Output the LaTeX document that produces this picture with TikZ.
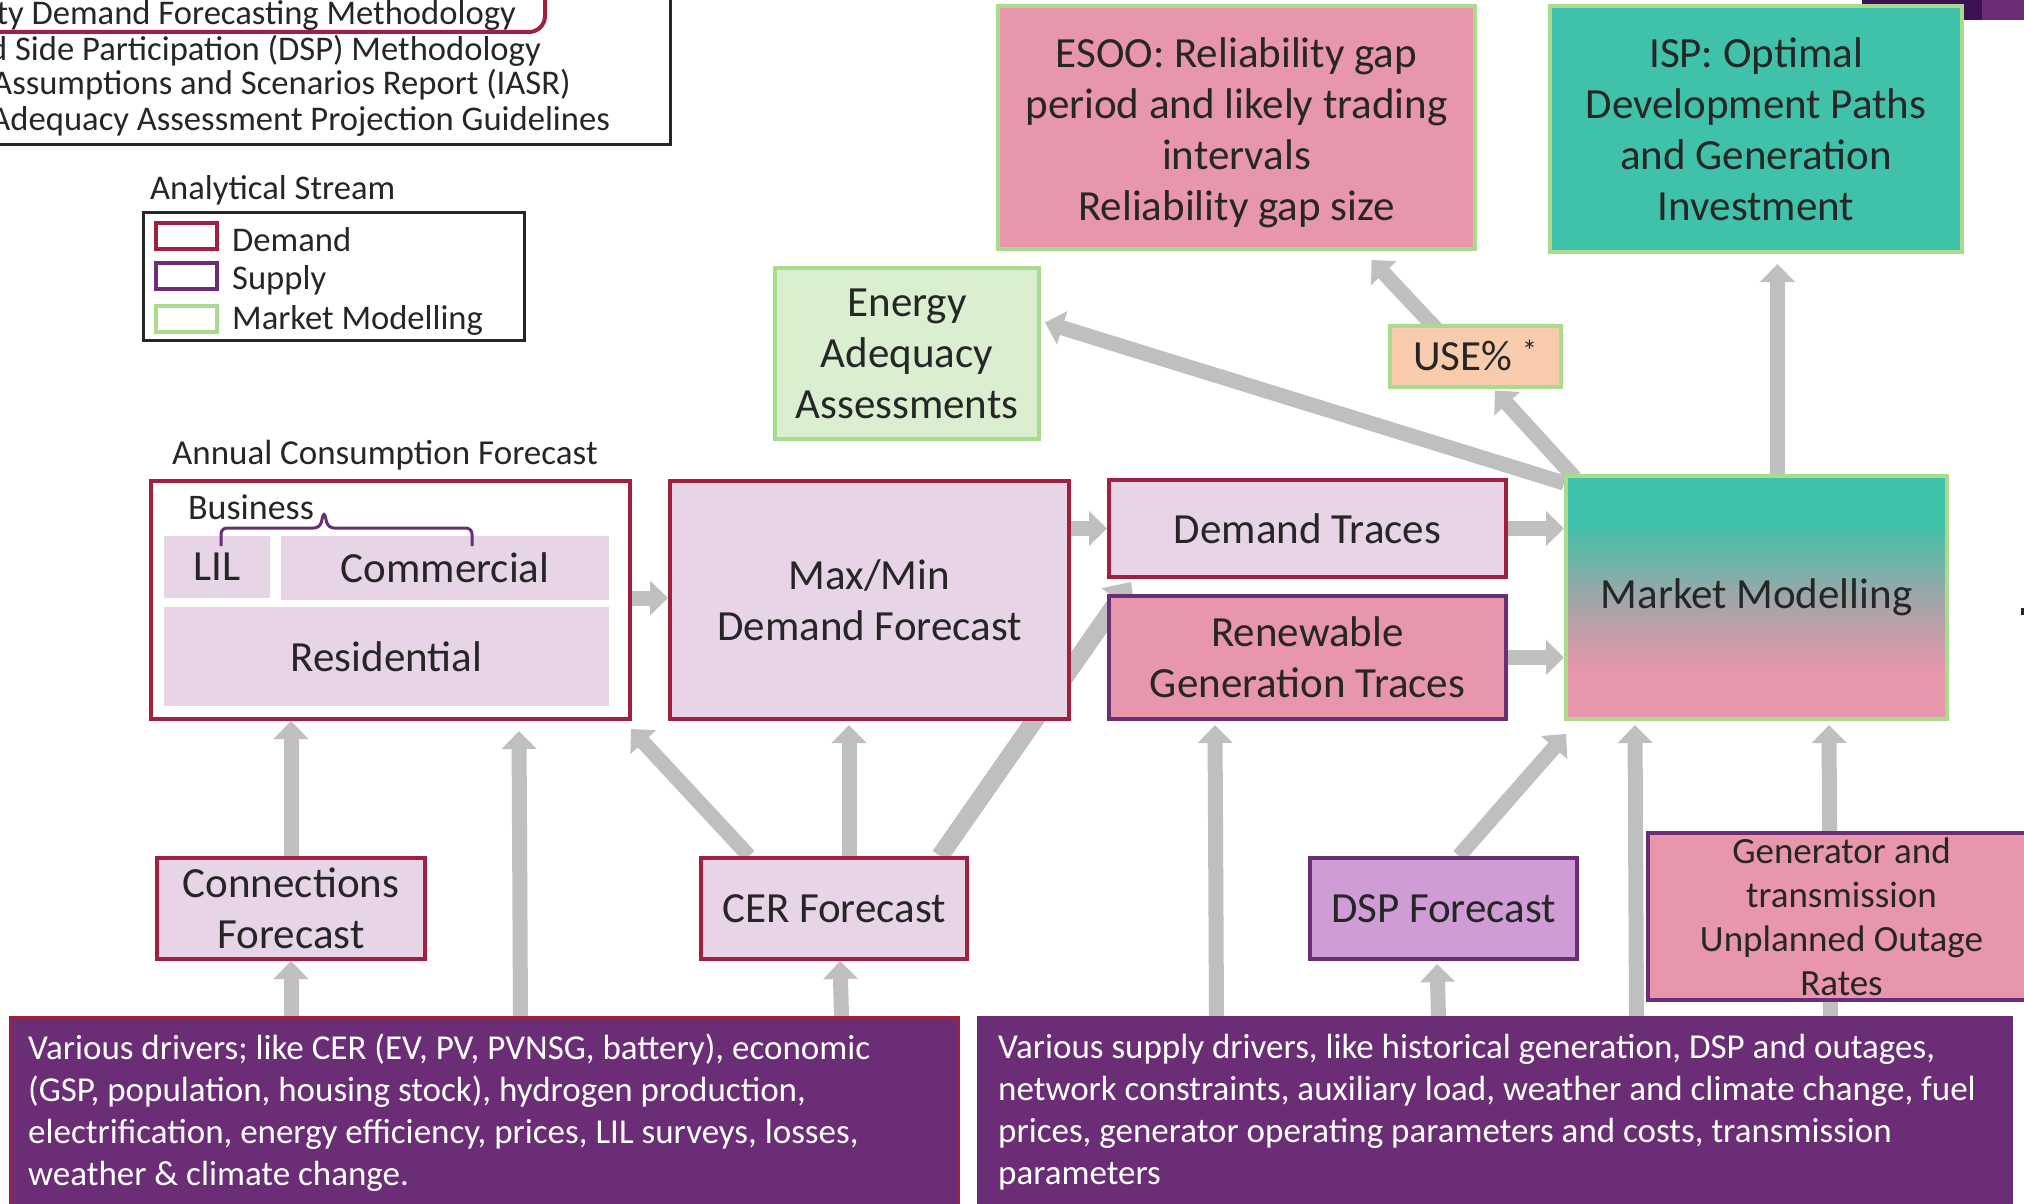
\documentclass[tikz,border=0pt]{standalone}
\usepackage{fontspec}
\setmainfont{Carlito}
\usepackage{xcolor}
\usepackage{tikz}
\usetikzlibrary{arrows.meta, positioning}

\definecolor{crimson}{RGB}{160,32,64}
\definecolor{plum}{RGB}{107,45,117}
\definecolor{darkplum}{RGB}{62,18,82}
\definecolor{lavender}{RGB}{232,212,231}
\definecolor{rosepink}{RGB}{232,150,171}
\definecolor{mteal}{RGB}{64,193,170}
\definecolor{midgray}{RGB}{158,166,168}
\definecolor{leafgreen}{RGB}{168,220,140}
\definecolor{mint}{RGB}{217,239,208}
\definecolor{peach}{RGB}{248,203,173}
\definecolor{lilac}{RGB}{207,156,213}
\definecolor{arrowgray}{RGB}{191,191,191}
\definecolor{ink}{RGB}{38,38,38}

\pgfdeclareverticalshading{mmshade}{100bp}{color(0bp)=(rosepink); color(35bp)=(rosepink); color(50bp)=(midgray); color(65bp)=(mteal); color(100bp)=(mteal)}

\pgfdeclarelayer{bg}
\pgfsetlayers{bg,main}

\begin{document}
\begin{tikzpicture}[x=1pt, y=-1pt,
    basebox/.style={draw, line width=4pt, inner sep=0pt, align=center, text=ink, font=\fontsize{43}{51}\selectfont},
    demandbox/.style={basebox, draw=crimson, fill=lavender},
    supplybox/.style={basebox, draw=plum, fill=rosepink},
    marketbox/.style={basebox, draw=leafgreen},
    subbox/.style={fill=lavender, inner sep=0pt, text=ink, font=\fontsize{43}{51}\selectfont},
    legendtext/.style={inner sep=0pt, text=ink, font=\fontsize{34.6}{36}\selectfont},
    drivertext/.style={inner sep=0pt, text=white, align=left, font=\fontsize{35}{42}\selectfont},
    flow/.style={draw=arrowgray, line width=15pt, -{Triangle[width=34pt,length=18pt]}}]
  \useasboundingbox (0,0) rectangle (2024,1204);
  \clip (0,0) rectangle (2024,1204);

  \fill[darkplum] (1862,-5) rectangle (1982,20);
  \fill[plum] (1982,-5) rectangle (2030,20);
  \fill[ink] (2021,608) rectangle (2026,615);

  \draw[ink, line width=3pt] (-300,-40) rectangle (670,145);
  \draw[crimson, line width=4pt, rounded corners=16pt] (-300,-40) rectangle (545,32);
  \node[legendtext, anchor=base east] (src1) at (516,25) {Electricity Demand Forecasting Methodology};
  \node[legendtext, anchor=base east] (src2) at (541,61) {Demand Side Participation (DSP) Methodology};
  \node[legendtext, anchor=base east] (src3) at (571,95) {Inputs, Assumptions and Scenarios Report (IASR)};
  \node[legendtext, anchor=base east] (src4) at (610,131) {Energy Adequacy Assessment Projection Guidelines};

  \node[legendtext, anchor=base west] (streamtitle) at (150,199) {Analytical Stream};
  \draw[ink, line width=3pt] (143,212) rectangle (524,340);
  \node[draw=crimson, line width=4pt, minimum width=61pt, minimum height=26pt] (keydemand) at (186.5,236) {};
  \node[draw=plum, line width=4pt, minimum width=61pt, minimum height=26pt] (keysupply) at (186.5,275.5) {};
  \node[draw=leafgreen, line width=4pt, minimum width=61pt, minimum height=26pt] (keymarket) at (186.5,318.5) {};
  \node[legendtext, anchor=base west] (keydemandlabel) at (232,251) {Demand};
  \node[legendtext, anchor=base west] (keysupplylabel) at (232,289) {Supply};
  \node[legendtext, anchor=base west] (keymarketlabel) at (232,329) {Market Modelling};

  \node[marketbox, fill=rosepink, minimum width=477pt, minimum height=243pt] (esoo) at (1236.5,127.5) {\rule{0pt}{0.95em}ESOO: Reliability gap\\period and likely trading\\intervals\\Reliability gap size};
  \node[marketbox, fill=mteal, minimum width=412pt, minimum height=246pt] (isp) at (1756,129) {ISP: Optimal\\Development Paths\\and Generation\\Investment};
  \node[marketbox, fill=mint, minimum width=264pt, minimum height=171pt] (energy) at (907,353.5) {Energy\\Adequacy\\Assessments};
  \node[marketbox, fill=peach, minimum width=171pt, minimum height=61pt] (use) at (1475.5,356) {USE\% \smash{\textsuperscript{*}}};

  \node[legendtext, font=\fontsize{35}{40}\selectfont] (annuallabel) at (385,455) {Annual Consumption Forecast};
  \node[demandbox, fill=white, minimum width=479pt, minimum height=238pt] (annual) at (390.5,600) {};
  \node[legendtext, font=\fontsize{36}{40}\selectfont] (business) at (251,507) {Business};
  \node[subbox, minimum width=106pt, minimum height=62pt] (lil) at (217,567) {LIL};
  \node[subbox, minimum width=328pt, minimum height=64pt] (commercial) at (445,568) {Commercial};
  \node[subbox, minimum width=445pt, minimum height=99pt] (residential) at (386.5,656.5) {Residential};
  \draw[plum, line width=3pt, rounded corners=6pt] (221,546) -- (221,528) -- (320,528) -- (324,511) -- (328,528) -- (472,528) -- (472,546);

  \node[demandbox, minimum width=399pt, minimum height=238pt] (maxmin) at (869.5,600) {Max/Min\\Demand Forecast};
  \node[demandbox, minimum width=397pt, minimum height=97pt] (demtraces) at (1307.5,528.5) {Demand Traces};
  \node[supplybox, minimum width=397pt, minimum height=123pt] (rentraces) at (1307.5,657.5) {Renewable\\Generation Traces};
  \node[marketbox, shading=mmshade, minimum width=381pt, minimum height=243pt] (market) at (1756.5,597.5) {Market Modelling};

  \node[demandbox, minimum width=268pt, minimum height=101pt] (conn) at (291,908.5) {Connections\\Forecast};
  \node[demandbox, minimum width=266pt, minimum height=101pt] (cer) at (834,908.5) {CER Forecast};
  \node[supplybox, fill=lilac, minimum width=267pt, minimum height=101pt] (dsp) at (1443.5,908.5) {DSP Forecast};
  \node[supplybox, minimum width=387pt, minimum height=167pt, font=\fontsize{37}{44}\selectfont] (gen) at (1841.5,916.5) {Generator and\\transmission\\Unplanned Outage\\Rates};

  \node[draw=crimson, fill=plum, line width=3pt, anchor=north west, minimum width=948pt, minimum height=230pt] (drivers) at (9,1016) {};
  \node[drivertext, anchor=north west] (driverstext) at (28,1034) {Various drivers; like CER (EV, PV, PVNSG, battery), economic\\(GSP, population, housing stock), hydrogen production,\\electrification, energy efficiency, prices, LIL surveys, losses,\\weather \& climate change.};
  \node[draw=plum, fill=plum, line width=3pt, anchor=north west, minimum width=1033pt, minimum height=230pt] (supply) at (977,1016) {};
  \node[drivertext, anchor=north west] (supplytext) at (998,1034) {Various supply drivers, like historical generation, DSP and outages,\\network constraints, auxiliary load, weather and climate change, fuel\\prices, generator operating parameters and costs, transmission\\parameters};

  \begin{pgfonlayer}{bg}
    \draw[flow] (conn.north) -- (conn.north |- annual.south);
    \draw[flow] (conn.south |- drivers.north) -- (conn.south);
    \draw[flow] ([xshift=36pt]drivers.north) -- ([xshift=128.5pt,yshift=-10pt]annual.south);
    \draw[flow] ([xshift=-85pt]cer.north) -- ([xshift=-1pt,yshift=-8pt]annual.south east);
    \draw[flow] ([xshift=15pt]cer.north) -- ([xshift=-20.5pt,yshift=-4pt]maxmin.south);
    \draw[flow, line width=18pt, -{Triangle[width=40pt,length=22pt]}] ([xshift=106pt]cer.north) -- ([xshift=24pt,yshift=-3pt]demtraces.south west);
    \draw[flow] ([xshift=357pt]drivers.north) -- ([xshift=6pt]cer.south);
    \draw[flow] ([yshift=2pt]annual.east) -- ([yshift=2pt]maxmin.west);
    \draw[flow] (maxmin.east |- demtraces.west) -- (demtraces.west);
    \draw[flow] (demtraces.east) -- (demtraces.east -| market.west);
    \draw[flow] (rentraces.east) -- (rentraces.east -| market.west);
    \draw[flow] ([xshift=-278.5pt]supply.north) -- ([xshift=-92.5pt,yshift=-4pt]rentraces.south);
    \draw[flow] ([xshift=15.5pt]dsp.north) -- ([xshift=2pt,yshift=-13pt]market.south west);
    \draw[flow] ([xshift=-56.5pt]supply.north) -- ([xshift=-6.5pt,yshift=-3pt]dsp.south);
    \draw[flow] ([xshift=141.5pt]supply.north) -- ([xshift=-121.5pt,yshift=-4pt]market.south);
    \draw[flow] ([xshift=335.5pt]supply.north) -- ([xshift=72.5pt,yshift=-4pt]market.south);
    \draw[flow] ([xshift=11pt,yshift=-4pt]market.north west) -- ([xshift=19.5pt,yshift=-2pt]use.south);
    \draw[flow] ([yshift=-9pt]market.north west) -- ([xshift=4pt,yshift=31pt]energy.east);
    \draw[flow] ([xshift=-35pt,yshift=-10pt]use.north) -- ([xshift=135pt,yshift=-9pt]esoo.south);
    \draw[flow] ([xshift=21pt]market.north) -- ([xshift=21.5pt,yshift=-10pt]isp.south);
  \end{pgfonlayer}
\end{tikzpicture}
\end{document}
